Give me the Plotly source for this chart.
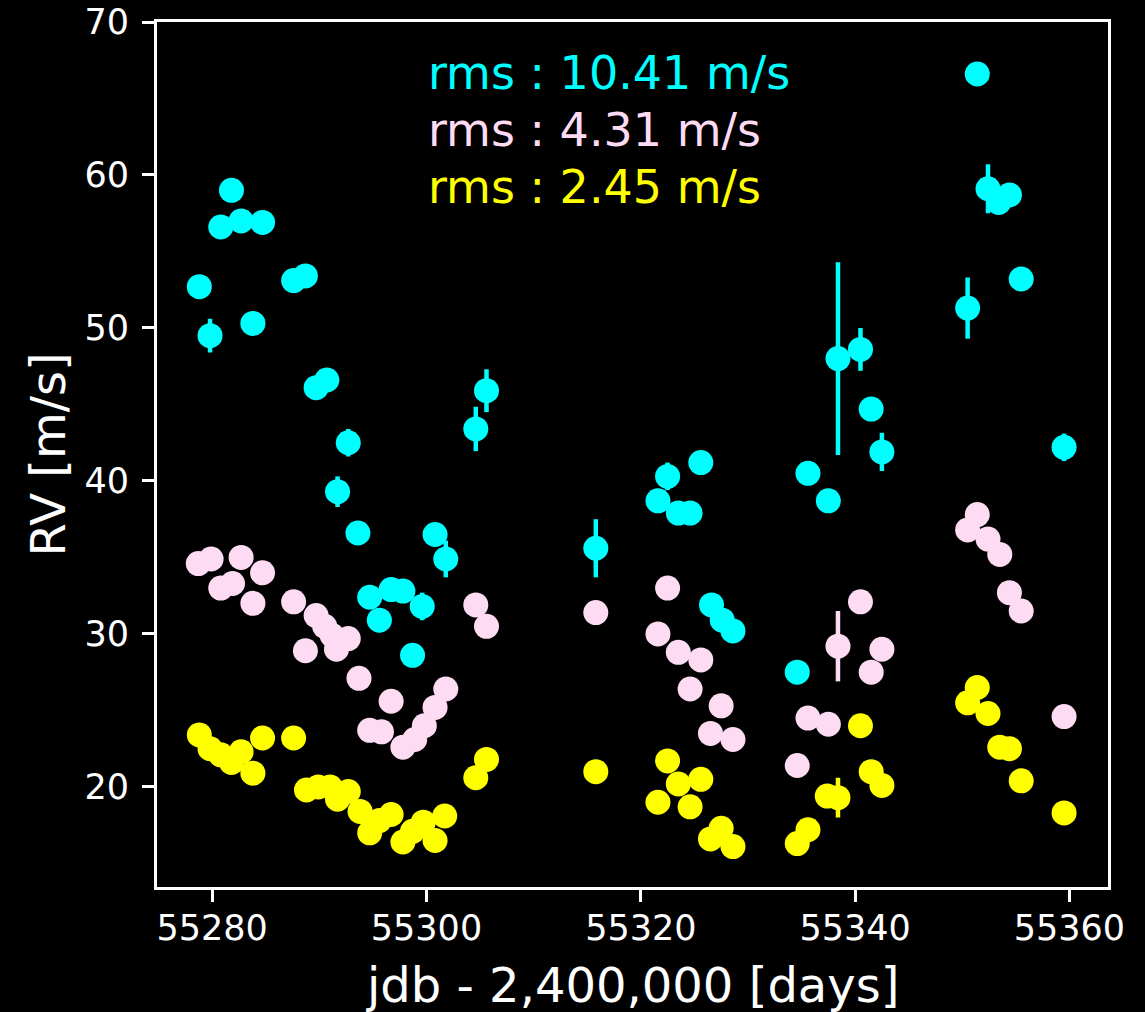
import plotly.graph_objects as go

# Epochs (jdb - 2,400,000) and radial velocities [m/s] for the three reductions
t_cyan = [55278.8, 55279.8, 55280.8, 55281.8, 55282.7, 55283.8, 55284.7, 55287.6,
          55288.7, 55289.7, 55290.7, 55291.7, 55292.7, 55293.6, 55294.7, 55295.6,
          55296.7, 55297.8, 55298.7, 55299.6, 55300.8, 55301.8, 55304.6, 55305.6,
          55315.8, 55321.6, 55322.5, 55323.5, 55324.6, 55325.6, 55326.6, 55327.6,
          55328.6, 55334.6, 55335.6, 55337.5, 55338.4, 55340.5, 55341.5, 55342.5,
          55350.5, 55351.4, 55352.4, 55353.4, 55354.4, 55355.5, 55359.5]
rv_cyan = [52.7, 49.5, 56.6, 59.0, 57.0, 50.3, 56.9, 53.1,
           53.4, 46.1, 46.6, 39.3, 42.5, 36.6, 32.4, 30.9,
           32.9, 32.8, 28.6, 31.8, 36.5, 34.9, 43.4, 45.9,
           35.6, 38.7, 40.3, 37.9, 37.9, 41.2, 31.9, 30.9,
           30.2, 27.5, 40.5, 38.7, 48.0, 48.6, 44.7, 41.9,
           51.3, 66.6, 59.1, 58.2, 58.7, 53.2, 42.2]
err_cyan = [0.6, 1.1, 0.6, 0.6, 0.6, 0.6, 0.6, 0.6,
            0.6, 0.6, 0.6, 1.0, 0.9, 0.6, 0.6, 0.6,
            0.6, 0.6, 0.6, 0.9, 0.6, 1.2, 1.45, 1.4,
            1.9, 0.6, 0.9, 0.6, 0.6, 0.6, 0.6, 0.6,
            0.6, 0.6, 0.6, 0.6, 6.3, 1.4, 0.6, 1.25,
            2.0, 0.6, 1.6, 0.6, 0.6, 0.6, 0.9]

t_pink = [55278.7, 55279.9, 55280.8, 55281.9, 55282.7, 55283.8, 55284.7, 55287.6,
          55288.7, 55289.7, 55290.5, 55291.2, 55291.6, 55292.7, 55293.7, 55294.7,
          55295.8, 55296.7, 55297.8, 55298.9, 55299.8, 55300.8, 55301.8, 55304.6,
          55305.6, 55315.8, 55321.6, 55322.5, 55323.5, 55324.6, 55325.6, 55326.5,
          55327.5, 55328.6, 55334.6, 55335.6, 55337.5, 55338.4, 55340.5, 55341.5,
          55342.5, 55350.5, 55351.4, 55352.4, 55353.5, 55354.4, 55355.5, 55359.5]
rv_pink = [34.6, 34.9, 33.0, 33.3, 35.0, 32.0, 34.0, 32.1,
           28.9, 31.2, 30.5, 29.9, 29.0, 29.7, 27.1, 23.7,
           23.6, 25.6, 22.6, 23.1, 24.0, 25.2, 26.4, 31.9,
           30.5, 31.4, 30.0, 33.0, 28.8, 26.4, 28.3, 23.5,
           25.3, 23.1, 21.4, 24.5, 24.1, 29.2, 32.1, 27.5,
           29.0, 36.8, 37.8, 36.2, 35.2, 32.7, 31.5, 24.6]
err_pink = [0.5] * 37 + [2.3] + [0.5] * 10

t_yellow = [55278.8, 55279.8, 55280.8, 55281.8, 55282.7, 55283.8, 55284.7, 55287.6,
            55288.8, 55289.9, 55291.0, 55291.7, 55292.7, 55293.8, 55294.7, 55295.6,
            55296.7, 55297.8, 55298.7, 55299.7, 55300.8, 55301.7, 55304.6, 55305.6,
            55315.8, 55321.6, 55322.5, 55323.5, 55324.6, 55325.6, 55326.5, 55327.5,
            55328.6, 55334.6, 55335.6, 55337.4, 55338.4, 55340.5, 55341.5, 55342.5,
            55350.5, 55351.4, 55352.4, 55353.5, 55354.4, 55355.5, 55359.5]
rv_yellow = [23.4, 22.5, 22.1, 21.6, 22.3, 20.9, 23.2, 23.2,
             19.8, 20.0, 20.0, 19.2, 19.7, 18.4, 17.0, 17.8,
             18.2, 16.4, 17.1, 17.7, 16.5, 18.1, 20.6, 21.8,
             21.0, 19.0, 21.7, 20.2, 18.7, 20.5, 16.6, 17.3,
             16.1, 16.3, 17.2, 19.4, 19.3, 24.0, 21.0, 20.1,
             25.5, 26.5, 24.8, 22.6, 22.5, 20.4, 18.3]
err_yellow = [0.5] * 36 + [1.3] + [0.5] * 10

rms_labels = ["rms : 10.41 m/s", "rms : 4.31 m/s", "rms : 2.45 m/s"]
colors = ["#00FFFF", "#FDDCF3", "#FFFF00"]

series = [
    (t_cyan, rv_cyan, err_cyan),
    (t_pink, rv_pink, err_pink),
    (t_yellow, rv_yellow, err_yellow),
]

FONT = "DejaVu Sans"

fig = go.Figure()
for (t, rv, err), col in zip(series, colors):
    fig.add_trace(go.Scatter(
        x=t, y=rv, mode="markers",
        marker=dict(color=col, size=25, line=dict(width=0)),
        error_y=dict(type="data", array=err, visible=True,
                     color=col, thickness=4.5, width=0),
        showlegend=False,
    ))

axis_common = dict(
    showline=True, linecolor="white", linewidth=3, mirror=True,
    ticks="outside", ticklen=12, tickwidth=3, tickcolor="white",
    showgrid=False, zeroline=False, automargin=False,
    tickfont=dict(family=FONT, size=35, color="white"),
)

fig.update_xaxes(range=[55274.85, 55363.6], tickmode="array",
                 tickvals=[55280, 55300, 55320, 55340, 55360],
                 ticktext=["55280", "55300", "55320", "55340", "55360"],
                 ticklabelstandoff=-4, **axis_common)
fig.update_yaxes(range=[13.46, 70], tickmode="array",
                 tickvals=[20, 30, 40, 50, 60, 70],
                 ticktext=["20", "30", "40", "50", "60", "70"],
                 ticklabelstandoff=6, **axis_common)

annotations = []
for i, (txt, col) in enumerate(zip(rms_labels, colors)):
    annotations.append(dict(
        text=txt, xref="paper", yref="paper",
        x=(426 - 157) / 951, y=1 - (73 + 57 * i - 22) / 865,
        xanchor="left", yanchor="middle", showarrow=False,
        font=dict(family=FONT, size=46, color=col),
    ))
annotations.append(dict(
    text="jdb - 2,400,000 [days]", xref="paper", yref="paper",
    x=0.5, y=(887 - 985) / 865, xanchor="center", yanchor="middle",
    showarrow=False, font=dict(family=FONT, size=48, color="white"),
))
annotations.append(dict(
    text="RV [m/s]", xref="paper", yref="paper",
    x=(47 - 157) / 951, y=0.5, xanchor="center", yanchor="middle",
    textangle=-90, showarrow=False,
    font=dict(family=FONT, size=48, color="white"),
))

fig.update_layout(
    width=1145, height=1012,
    margin=dict(l=157, r=37, t=22, b=125),
    paper_bgcolor="black", plot_bgcolor="black",
    annotations=annotations,
)

fig.write_html("out.html")
